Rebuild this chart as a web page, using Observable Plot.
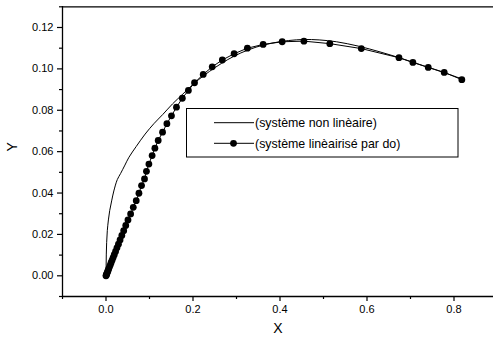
<!DOCTYPE html>
<html>
<head>
<meta charset="utf-8">
<script src="https://cdn.jsdelivr.net/npm/d3@7"></script>
<script src="https://cdn.jsdelivr.net/npm/@observablehq/plot@0.6"></script>
<style>
  html, body { margin: 0; padding: 0; background: #fff; }
  #chart { position: relative; width: 493px; height: 345px; }
  svg { font-family: "Liberation Sans", Arial, sans-serif; }
</style>
</head>
<body>
<div id="chart"></div>
<script>
// Series 1: système non linéaire (thin curve)
const nlX = [0, 0.0003, 0.0007, 0.0015, 0.003, 0.0055, 0.0085, 0.013, 0.018, 0.026, 0.0337, 0.0435, 0.0528, 0.0695, 0.09, 0.11, 0.1307, 0.153, 0.175, 0.2, 0.225, 0.252, 0.28, 0.31, 0.345, 0.38, 0.42, 0.455, 0.49, 0.53, 0.58, 0.63, 0.68, 0.73, 0.78, 0.82];
const nlY = [0, 0.005, 0.0105, 0.016, 0.0218, 0.027, 0.0315, 0.0362, 0.041, 0.0465, 0.0495, 0.0535, 0.0573, 0.0625, 0.0685, 0.0735, 0.078, 0.0831, 0.0875, 0.0925, 0.0968, 0.1008, 0.1045, 0.1077, 0.1105, 0.1124, 0.1137, 0.1142, 0.114, 0.1131, 0.111, 0.1082, 0.105, 0.1015, 0.098, 0.095];

// Series 2: système linéairisé par do (dots + line)
const linX = [0, 0.0005, 0.0013, 0.0022, 0.0033, 0.0046, 0.0061, 0.0078, 0.0097, 0.0117, 0.0139, 0.0164, 0.019, 0.022, 0.0252, 0.0286, 0.0323, 0.0364, 0.0407, 0.0454, 0.0505, 0.0566, 0.0627, 0.0695, 0.0757, 0.0817, 0.0885, 0.093, 0.0986, 0.106, 0.1124, 0.12, 0.13, 0.14, 0.1505, 0.162, 0.1755, 0.1894, 0.2035, 0.2235, 0.2442, 0.2674, 0.2945, 0.325, 0.3612, 0.405, 0.455, 0.5145, 0.587, 0.6735, 0.7055, 0.7408, 0.7775, 0.818];
const linY = [0, 0.0003, 0.0007, 0.0012, 0.0018, 0.0025, 0.0033, 0.0042, 0.0052, 0.0063, 0.0075, 0.0088, 0.0102, 0.0118, 0.0135, 0.0153, 0.0173, 0.0195, 0.0218, 0.0243, 0.027, 0.0299, 0.0331, 0.0363, 0.0399, 0.0436, 0.0468, 0.0505, 0.054, 0.0581, 0.0617, 0.0654, 0.0694, 0.0735, 0.0773, 0.0815, 0.0858, 0.0896, 0.0933, 0.0973, 0.101, 0.1043, 0.1073, 0.11, 0.1118, 0.1131, 0.1134, 0.1122, 0.1098, 0.1054, 0.1031, 0.1007, 0.0983, 0.0948];

const xMajor = [0, 0.2, 0.4, 0.6, 0.8];
const xMinor = [-0.1, 0.1, 0.3, 0.5, 0.7];
const yMajor = [0, 0.02, 0.04, 0.06, 0.08, 0.10, 0.12];
const yMinor = [-0.01, 0.01, 0.03, 0.05, 0.07, 0.09, 0.11, 0.13];
const legendLabels = ["(système non linèaire)", "(système linèairisé par do)"];
const xTitle = "X";
const yTitle = "Y";

const nl = nlX.map((x, i) => ({x, y: nlY[i]}));
const lin = linX.map((x, i) => ({x, y: linY[i]}));

const plot = Plot.plot({
  width: 493,
  height: 345,
  marginLeft: 62,
  marginRight: 0,
  marginTop: 6,
  marginBottom: 49,
  style: {fontFamily: '"Liberation Sans", Arial, sans-serif', fontSize: "11px", color: "#000", background: "#fff"},
  x: {domain: [-0.1, 0.9], range: [62, 497]},
  y: {domain: [-0.01, 0.13], range: [296, 6.3]},
  marks: [
    Plot.ruleY([-0.01], {stroke: "#000", strokeWidth: 1.3}),
    Plot.ruleY([0.13], {stroke: "#000", strokeWidth: 1.3}),
    Plot.ruleX([-0.1], {stroke: "#000", strokeWidth: 1.3}),
    Plot.axisX({ticks: xMajor, tickSize: 5, tickFormat: ".1f", tickPadding: 4, fontSize: 11, label: null, stroke: "#000", strokeWidth: 1.2}),
    Plot.axisX({ticks: xMinor, tickSize: 3, tickFormat: () => "", label: null, stroke: "#000", strokeWidth: 1.2}),
    Plot.axisY({ticks: yMajor, tickSize: 5, tickFormat: ".2f", tickPadding: 4, fontSize: 11, label: null, stroke: "#000", strokeWidth: 1.2}),
    Plot.axisY({ticks: yMinor, tickSize: 3, tickFormat: () => "", label: null, stroke: "#000", strokeWidth: 1.2}),
    Plot.line(nl, {x: "x", y: "y", stroke: "#000", strokeWidth: 1, curve: "catmull-rom"}),
    Plot.line(lin, {x: "x", y: "y", stroke: "#000", strokeWidth: 1}),
    Plot.dot(lin, {x: "x", y: "y", r: 3.4, fill: "#000", stroke: "none"}),
    Plot.text([xTitle], {text: d => d, frameAnchor: "bottom", dy: 36, fontSize: 14, fill: "#000"}),
    Plot.text([yTitle], {text: d => d, frameAnchor: "left", dx: -50, rotate: -90, fontSize: 14, fill: "#000"})
  ]
});

document.getElementById("chart").appendChild(plot);

// Legend box
const svg = d3.select(plot);
const g = svg.append("g").attr("font-family", '"Liberation Sans", Arial, sans-serif').attr("text-anchor", "start");
g.append("rect").attr("x", 186.5).attr("y", 108.5).attr("width", 271.5).attr("height", 48.5)
  .attr("fill", "#fff").attr("stroke", "#000").attr("stroke-width", 1);
const rowsY = [122.7, 143.3];
legendLabels.forEach((lab, i) => {
  g.append("line").attr("x1", 214).attr("x2", 254).attr("y1", rowsY[i]).attr("y2", rowsY[i])
    .attr("stroke", "#000").attr("stroke-width", 1);
  if (i === 1) g.append("circle").attr("cx", 233.5).attr("cy", rowsY[i]).attr("r", 3.4).attr("fill", "#000");
  g.append("text").attr("x", 255).attr("y", rowsY[i]).attr("dy", "0.35em")
    .attr("text-anchor", "start").attr("font-size", 12.4).attr("fill", "#000").text(lab);
});
</script>
</body>
</html>
